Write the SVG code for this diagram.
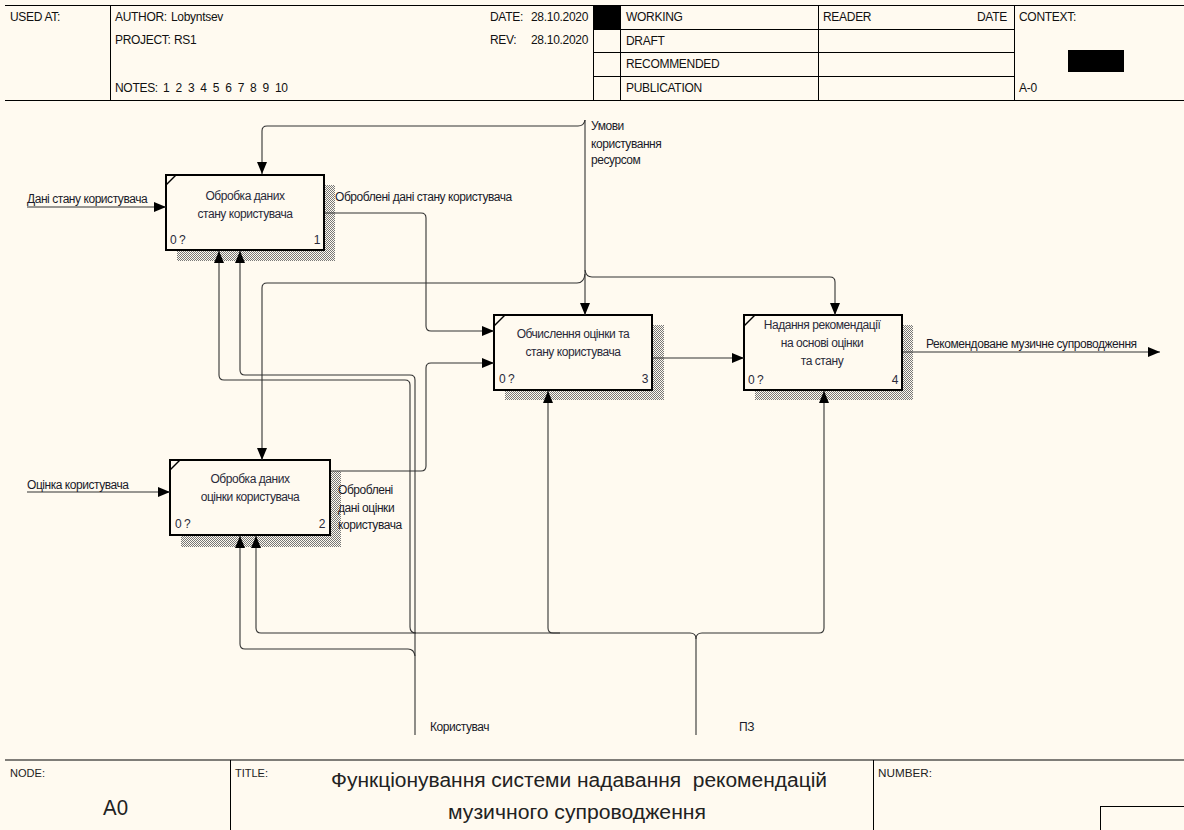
<svg xmlns="http://www.w3.org/2000/svg" width="1184" height="830" viewBox="0 0 1184 830">
<style>
text{font-family:"Liberation Sans",Arial,sans-serif;fill:#222}
.h{font-size:12px;fill:#111;letter-spacing:-0.3px}
.b{font-size:12px;fill:#2a2a3a;letter-spacing:-0.45px}
.l{font-size:12px;fill:#1a1a2a;letter-spacing:-0.45px}
.frame{stroke:#000;stroke-width:1;fill:none}
.c{stroke:#333;stroke-width:1.1;fill:none}
.box{fill:#FFFAF0;stroke:#000;stroke-width:2}
.sh{fill:url(#hatch)}
</style>
<defs>
<pattern id="hatch" width="2" height="2" patternUnits="userSpaceOnUse">
<rect x="0" y="0" width="1" height="1" fill="#777"/>
<rect x="1" y="1" width="1" height="1" fill="#777"/>
</pattern>
<marker id="ar" viewBox="0 0 12 10" refX="12" refY="5" markerWidth="12" markerHeight="10" markerUnits="userSpaceOnUse" orient="auto">
<path d="M0,0 L12,5 L0,10 Z" fill="#000"/>
</marker>
</defs>
<rect width="1184" height="830" fill="#FFFAF0"/>
<g id="header">
<line class="frame" x1="5" y1="5.5" x2="1184" y2="5.5" stroke-width="1.5"/>
<line class="frame" x1="5" y1="100.5" x2="1184" y2="100.5" stroke="#666"/>
<line class="frame" x1="110.5" y1="5" x2="110.5" y2="100"/>
<line class="frame" x1="593.5" y1="5" x2="593.5" y2="100"/>
<line class="frame" x1="620.5" y1="5" x2="620.5" y2="100"/>
<line class="frame" x1="818.5" y1="5" x2="818.5" y2="100"/>
<line class="frame" x1="1014.5" y1="5" x2="1014.5" y2="100"/>
<line class="frame" x1="593" y1="29.5" x2="1014" y2="29.5"/>
<line class="frame" x1="593" y1="52.5" x2="1014" y2="52.5"/>
<line class="frame" x1="593" y1="76.5" x2="1014" y2="76.5"/>
<rect x="594" y="6" width="26" height="23" fill="#000"/>
<rect x="1068" y="50" width="56" height="22" fill="#000"/>
<text class="h" x="10" y="21">USED AT:</text>
<text class="h" x="115" y="21">AUTHOR:</text>
<text class="h" x="171" y="21">Lobyntsev</text>
<text class="h" x="115" y="44">PROJECT:</text>
<text class="h" x="174" y="44">RS1</text>
<text class="h" x="115" y="92">NOTES:</text>
<text class="h" x="163" y="92" xml:space="preserve">1  2  3  4  5  6  7  8  9  10</text>
<text class="h" x="490" y="21">DATE:</text>
<text class="h" x="531" y="21">28.10.2020</text>
<text class="h" x="490" y="44">REV:</text>
<text class="h" x="531" y="44">28.10.2020</text>
<text class="h" x="626" y="21">WORKING</text>
<text class="h" x="626" y="45">DRAFT</text>
<text class="h" x="626" y="68">RECOMMENDED</text>
<text class="h" x="626" y="92">PUBLICATION</text>
<text class="h" x="823" y="21">READER</text>
<text class="h" x="977" y="21">DATE</text>
<text class="h" x="1019" y="21">CONTEXT:</text>
<text class="h" x="1019" y="92">A-0</text>
</g>
<g id="footer">
<line class="frame" x1="5" y1="760" x2="1184" y2="760" stroke-width="1.5"/>
<line class="frame" x1="230.5" y1="760" x2="230.5" y2="830"/>
<line class="frame" x1="873.5" y1="760" x2="873.5" y2="830"/>
<rect class="frame" x="1100.5" y="806.5" width="90" height="30"/>
<text x="10" y="777" style="font-size:11px" textLength="35" lengthAdjust="spacingAndGlyphs">NODE:</text>
<text x="235" y="777" style="font-size:11px" textLength="33" lengthAdjust="spacingAndGlyphs">TITLE:</text>
<text x="878" y="777" style="font-size:11px" textLength="54" lengthAdjust="spacingAndGlyphs">NUMBER:</text>
<text x="103" y="815" style="font-size:22px" textLength="25" lengthAdjust="spacingAndGlyphs">A0</text>
<text x="331" y="787" style="font-size:20px" textLength="496" lengthAdjust="spacingAndGlyphs" xml:space="preserve">Функціонування системи надавання  рекомендацій</text>
<text x="448" y="819" style="font-size:20px" textLength="258" lengthAdjust="spacingAndGlyphs">музичного супроводження</text>
</g>
<g id="node1">
<rect class="sh" x="177" y="185" width="158" height="76"/>
<rect class="box" x="166" y="175" width="158" height="75"/>
<line x1="166" y1="185" x2="176" y2="175" stroke="#000" stroke-width="1.5"/>
<text class="b" x="245" y="200" text-anchor="middle">Обробка даних</text>
<text class="b" x="245" y="218" text-anchor="middle">стану користувача</text>
<text class="b" x="170" y="244">0 ?</text>
<text class="b" x="320" y="244" text-anchor="end">1</text>
</g>
<g id="node2">
<rect class="sh" x="181" y="471" width="160" height="76"/>
<rect class="box" x="170" y="460" width="160" height="75"/>
<line x1="170" y1="470" x2="180" y2="460" stroke="#000" stroke-width="1.5"/>
<text class="b" x="250" y="483" text-anchor="middle">Обробка даних</text>
<text class="b" x="250" y="501" text-anchor="middle">оцінки користувача</text>
<text class="b" x="175" y="528">0 ?</text>
<text class="b" x="325" y="528" text-anchor="end">2</text>
</g>
<g id="node3">
<rect class="sh" x="505" y="325" width="159" height="75"/>
<rect class="box" x="494" y="315" width="158" height="75"/>
<line x1="494" y1="326" x2="505" y2="315" stroke="#000" stroke-width="1.5"/>
<text class="b" x="573" y="338" text-anchor="middle">Обчислення оцінки та</text>
<text class="b" x="573" y="356" text-anchor="middle">стану користувача</text>
<text class="b" x="499" y="383">0 ?</text>
<text class="b" x="648" y="383" text-anchor="end">3</text>
</g>
<g id="node4">
<rect class="sh" x="755" y="325" width="158" height="75"/>
<rect class="box" x="744" y="315" width="158" height="75"/>
<line x1="744" y1="326" x2="755" y2="315" stroke="#000" stroke-width="1.5"/>
<text class="b" x="822" y="329" text-anchor="middle">Надання рекомендації</text>
<text class="b" x="822" y="347" text-anchor="middle">на основі оцінки</text>
<text class="b" x="822" y="365" text-anchor="middle">та стану</text>
<text class="b" x="748" y="384">0 ?</text>
<text class="b" x="898" y="384" text-anchor="end">4</text>
</g>
<g id="connectors">
<path class="c" d="M27,207 H166" marker-end="url(#ar)"/>
<path class="c" d="M27,492 H170" marker-end="url(#ar)"/>
<path class="c" d="M325,213 H421 Q426,213 426,218 V326 Q426,331 431,331 H494" marker-end="url(#ar)"/>
<path class="c" d="M331,471 H421 Q426,471 426,466 V368 Q426,363 431,363 H494" marker-end="url(#ar)"/>
<path class="c" d="M653,358 H744" marker-end="url(#ar)"/>
<path class="c" d="M903,352 H1160" marker-end="url(#ar)"/>
<path class="c" d="M585,120 Q584,126 578,126 H267 Q262,126 262,131 V174" marker-end="url(#ar)"/>
<path class="c" d="M585,120 V315" marker-end="url(#ar)"/>
<path class="c" d="M585,274 Q584,283 577,283 H267 Q262,283 262,288 V460" marker-end="url(#ar)"/>
<path class="c" d="M585,270 Q586,277 592,277 H830 Q835,277 835,282 V315" marker-end="url(#ar)"/>
<path class="c" d="M415,735 V380 Q415,375 410,375 H245 Q240,375 240,370 V251" marker-end="url(#ar)"/>
<path class="c" d="M415,656 Q414,649 408,649 H245 Q240,649 240,644 V536" marker-end="url(#ar)"/>
<path class="c" d="M416,633 Q410,633 410,627 V385 Q410,380 405,380 H224 Q219,380 219,375 V251" marker-end="url(#ar)"/>
<path class="c" d="M696,735 V639 Q696,633 690,633 H261 Q256,633 256,628 V536" marker-end="url(#ar)"/>
<path class="c" d="M696,639 Q696,633 702,633 H819 Q824,633 824,628 V391" marker-end="url(#ar)"/>
<path class="c" d="M560,633 H553 Q548,633 548,628 V391" marker-end="url(#ar)"/>
<text class="l" x="27" y="203">Дані стану користувача</text>
<text class="l" x="335" y="201">Оброблені дані стану користувача</text>
<text class="l" x="591" y="130">Умови</text>
<text class="l" x="591" y="148">користування</text>
<text class="l" x="591" y="164">ресурсом</text>
<text class="l" x="27" y="489">Оцінка користувача</text>
<text class="l" x="338" y="494">Оброблені</text>
<text class="l" x="338" y="512">дані оцінки</text>
<text class="l" x="338" y="529">користувача</text>
<text class="l" x="926" y="348">Рекомендоване музичне супроводження</text>
<text class="l" x="430" y="731">Користувач</text>
<text class="l" x="739" y="731">ПЗ</text>
</g>
</svg>
